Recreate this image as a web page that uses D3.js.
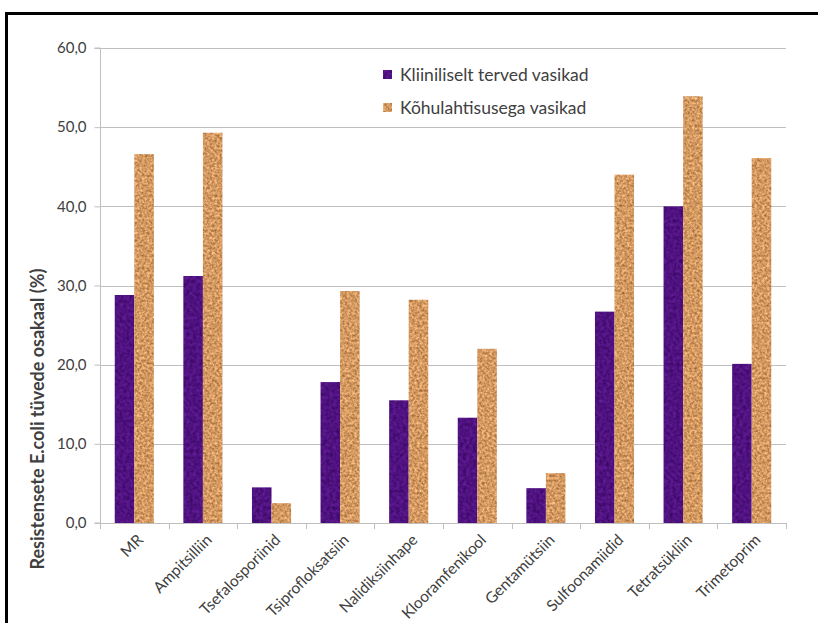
<!DOCTYPE html>
<html><head><meta charset="utf-8">
<script src="https://cdn.jsdelivr.net/npm/d3@7"></script>
<style>html,body{margin:0;background:#fff;overflow:hidden;} svg{display:block;} text{font-family:Lato,"Open Sans",sans-serif;fill:#404040;}</style>
</head><body><svg id="c" width="818" height="623"></svg>
<script>
const categories = ["MR","Ampitsilliin","Tsefalosporiinid","Tsiprofloksatsiin","Nalidiksiinhape","Klooramfenikool","Gentamütsiin","Sulfoonamiidid","Tetratsükliin","Trimetoprim"];
const seriesNames = ["Kliiniliselt terved vasikad","Kõhulahtisusega vasikad"];
const healthy = [28.8,31.2,4.5,17.8,15.5,13.3,4.4,26.7,40.0,20.1];
const diarrhea = [46.6,49.3,2.5,29.3,28.2,22.0,6.3,44.0,53.9,46.1];
const yTicks = [0,10,20,30,40,50,60];
const yTitle = "Resistensete  E.coli tüvede osakaal (%)";

const svg = d3.select("#c");
const defs = svg.append("defs");
function tex(id, base, seed, freq, amp){
  const f = defs.append("filter").attr("id",id).attr("x",0).attr("y",0).attr("width",1).attr("height",1)
    .attr("color-interpolation-filters","sRGB");
  f.append("feTurbulence").attr("type","fractalNoise").attr("baseFrequency",freq).attr("numOctaves",3).attr("seed",seed).attr("result","n");
  f.append("feColorMatrix").attr("in","n").attr("type","matrix")
   .attr("values",`${amp[0]} 0 0 0 ${base[0]-amp[0]/2}  ${amp[1]} 0 0 0 ${base[1]-amp[1]/2}  ${amp[2]} 0 0 0 ${base[2]-amp[2]/2}  0 0 0 0 1`).attr("result","c");
  f.append("feComposite").attr("in","c").attr("in2","SourceGraphic").attr("operator","in");
}
tex("tPurple",[0.31,0.07,0.50],3,0.3,[0.25,0.12,0.3]);
tex("tOrange",[0.83,0.60,0.38],7,0.4,[0.6,0.55,0.45]);
const colors = ["#4f127f","#d39a62"];
const filters = ["url(#tPurple)","url(#tOrange)"];

// border (top and left only)
svg.append("path").attr("d","M6.5,700V13.5H900").attr("fill","none").attr("stroke","#000").attr("stroke-width",3);

const L=100, R=786, T=48, B=523;
const x = d3.scaleBand().domain(categories).range([L,R]).paddingInner(0.43).paddingOuter(0.215);
const xb = d3.scaleBand().domain(categories).range([L,R]);
const x1 = d3.scaleBand().domain([0,1]).range([0,x.bandwidth()]);
const y = d3.scaleLinear().domain([0,60]).range([B,T]);

svg.append("g").selectAll("line").data(yTicks.filter(d=>d>0)).join("line")
  .attr("x1",L).attr("x2",R).attr("y1",d=>Math.round(y(d))+0.5).attr("y2",d=>Math.round(y(d))+0.5)
  .attr("stroke","#bfbfbf").attr("stroke-width",1);

const ya = svg.append("g").attr("transform",`translate(${L+0.5},0)`)
  .call(d3.axisLeft(y).tickValues(yTicks).tickSize(6).tickPadding(8).tickFormat(d=>d3.format(".1f")(d).replace(".",",")));
ya.select(".domain").attr("stroke","#bfbfbf").attr("d",`M-6,${B}H0V${T}H-6`);
ya.selectAll(".tick line").attr("stroke","#bfbfbf");
ya.selectAll("text").style("font-size","15px").attr("fill","#404040").style("font-family","Lato,sans-serif");

const series = [healthy, diarrhea];
series.forEach((vals,si)=>{
  svg.append("g").selectAll("rect").data(categories).join("rect")
    .attr("x",(c)=>x(c)+x1(si)).attr("width",x1.bandwidth())
    .attr("y",(c,i)=>y(vals[i])).attr("height",(c,i)=>B-y(vals[i]))
    .attr("fill",colors[si]).attr("filter",filters[si]);
});

const xa = svg.append("g").attr("transform",`translate(0,${B})`);
xa.append("line").attr("x1",L).attr("x2",R).attr("y1",0.5).attr("y2",0.5).attr("stroke","#bfbfbf");
xa.selectAll(".tk").data(d3.range(categories.length+1)).join("line")
  .attr("x1",i=>Math.round(L+i*xb.step())+0.5).attr("x2",i=>Math.round(L+i*xb.step())+0.5).attr("y1",0).attr("y2",6).attr("stroke","#bfbfbf");
xa.selectAll("text").data(categories).join("text")
  .attr("transform",c=>`translate(${xb(c)+xb.bandwidth()/2+6},${14}) rotate(-45)`)
  .attr("text-anchor","end").attr("dy","0.35em").style("font-size","15.5px").attr("fill","#404040").text(c=>c);

svg.append("text").attr("transform",`translate(44,419) rotate(-90)`)
  .attr("text-anchor","middle").style("font-size","18px").style("font-weight","bold").attr("fill","#000").text(yTitle);

const lg = svg.append("g").attr("transform","translate(383,66)");
seriesNames.forEach((n,i)=>{
  const g = lg.append("g").attr("transform",`translate(0,${i*33})`);
  g.append("rect").attr("x",0).attr("y",4).attr("width",9).attr("height",9).attr("fill",colors[i]).attr("filter",filters[i]);
  g.append("text").attr("x",17).attr("y",9).attr("dy","0.35em").style("font-size","17.5px").attr("fill","#404040").text(n);
});
</script></body></html>
